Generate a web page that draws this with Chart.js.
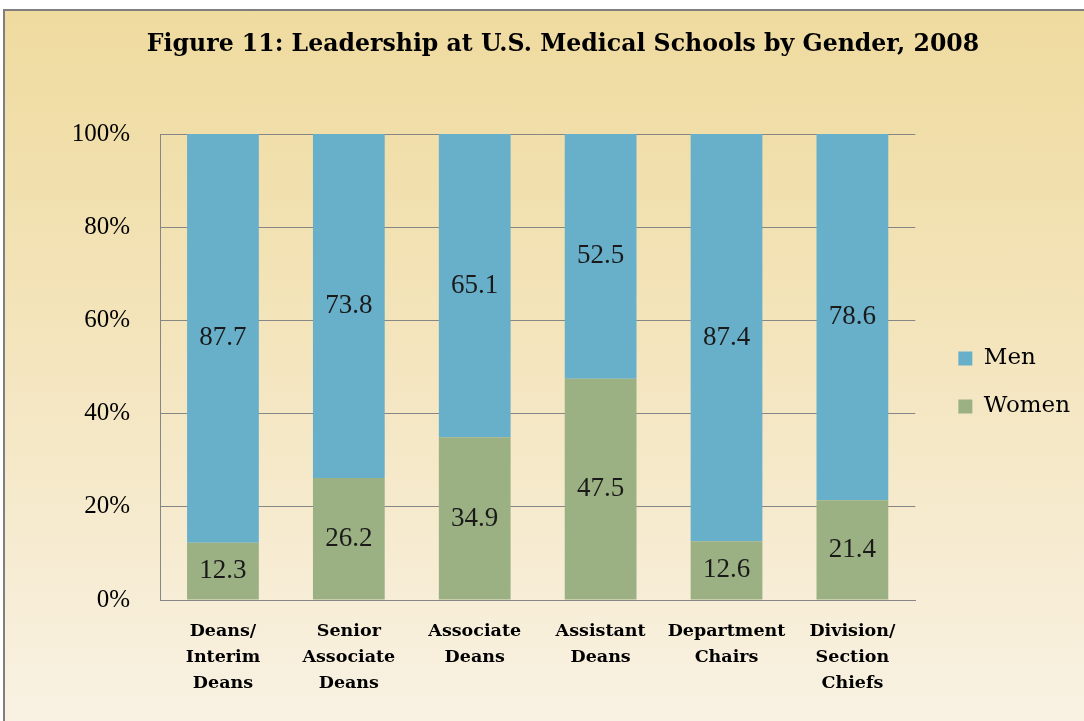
<!DOCTYPE html>
<html>
<head>
<meta charset="utf-8">
<title>Figure 11</title>
<script src="https://cdn.jsdelivr.net/npm/chart.js@4"></script>
<style>
  body { margin: 0; background: #fff; overflow: hidden; }
  #frame {
    position: absolute; left: 3px; top: 9px; width: 1090px; height: 720px;
    border: 2px solid #7f7f7f;
    background: linear-gradient(to bottom, #efdb9f 0%, #f3e3b8 40%, #f9f2e4 100%);
  }
  #chart { position: absolute; left: 42px; top: 0; }
</style>
</head>
<body>
<div id="frame"></div>
<canvas id="chart" width="1042" height="721"></canvas>
<script>
'use strict';

// data (percent of positions)
const categories = [
  ['Deans/', 'Interim', 'Deans'],
  ['Senior', 'Associate', 'Deans'],
  ['Associate', 'Deans'],
  ['Assistant', 'Deans'],
  ['Department', 'Chairs'],
  ['Division/', 'Section', 'Chiefs']
];
const women = [12.3, 26.2, 34.9, 47.5, 12.6, 21.4];
const men = [87.7, 73.8, 65.1, 52.5, 87.4, 78.6];
const yTicks = [0, 20, 40, 60, 80, 100];

const canvasEl = document.getElementById('chart');

// writes the value in the middle of every bar segment
const segmentLabels = {
  id: 'segmentLabels',
  afterDatasetsDraw(chart) {
    const ctx = chart.ctx;
    ctx.save();
    ctx.font = '27px "Liberation Serif"';
    ctx.fillStyle = '#1a1a1a';
    ctx.textAlign = 'center';
    ctx.textBaseline = 'middle';
    chart.data.datasets.forEach((ds, i) => {
      chart.getDatasetMeta(i).data.forEach((bar, j) => {
        let mid = (bar.y + bar.base) / 2;
        ctx.fillText(ds.data[j].toFixed(1), bar.x, mid);
      });
    });
    ctx.restore();
  }
};

// make the legend box wider and nudge it so it sits where the original one does
const legendShift = {
  id: 'legendShift',
  beforeLayout(chart) {
    let lg = chart.legend;
    if (lg && !lg._widened) {
      const fit = lg.fit;
      lg.fit = function() {
        fit.call(this);
        this.width += 22;
      };
      lg._widened = true;
    }
  },
  afterLayout(chart) {
    let lg = chart.legend;
    lg.left += 18;
    lg.right += 18;
    lg.top += 22;
    lg.bottom += 22;
  }
};

new Chart(canvasEl, {
  type: 'bar',
  data: {
    labels: categories,
    datasets: [{
      label: 'Women',
      data: women,
      backgroundColor: '#9bb183'
    }, {
      label: 'Men',
      data: men,
      backgroundColor: '#68afca'
    }]
  },
  options: {
    responsive: false,
    animation: false,
    layout: { padding: { left: 0, right: 0, top: 0, bottom: 0 } },
    datasets: {
      bar: { barPercentage: 0.57, categoryPercentage: 1 }
    },
    plugins: {
      title: {
        display: true,
        text: 'Figure 11: Leadership at U.S. Medical Schools by Gender, 2008',
        color: '#000',
        font: { family: 'DejaVu Serif', size: 23.6, weight: 'bold', lineHeight: 1.2 },
        padding: { top: 31, bottom: 74.7 }
      },
      legend: {
        position: 'right',
        reverse: true,
        labels: {
          color: '#000',
          boxWidth: 14,
          boxHeight: 14,
          padding: 25,
          font: { family: 'DejaVu Serif', size: 23 }
        }
      },
      tooltip: { enabled: false }
    },
    scales: {
      x: {
        stacked: true,
        grid: { display: false, drawTicks: false },
        border: { color: '#868686', width: 1 },
        ticks: {
          color: '#000',
          padding: 18,
          maxRotation: 0,
          autoSkip: false,
          font: { family: 'DejaVu Serif', size: 17.5, weight: 'bold', lineHeight: 1.49 }
        },
        afterFit(scale) { scale.height = 121; }
      },
      y: {
        stacked: true,
        min: 0,
        max: 100,
        grid: { color: '#868686', drawTicks: false },
        border: { color: '#868686', width: 1 },
        afterBuildTicks(scale) {
          scale.ticks = yTicks.map(v => ({ value: v }));
        },
        ticks: {
          color: '#000',
          padding: 30,
          callback: v => v + '%',
          font: { family: 'Liberation Serif', size: 25 }
        },
        afterFit(scale) { scale.width = 118; }
      }
    }
  },
  plugins: [segmentLabels, legendShift]
});
</script>
</body>
</html>
